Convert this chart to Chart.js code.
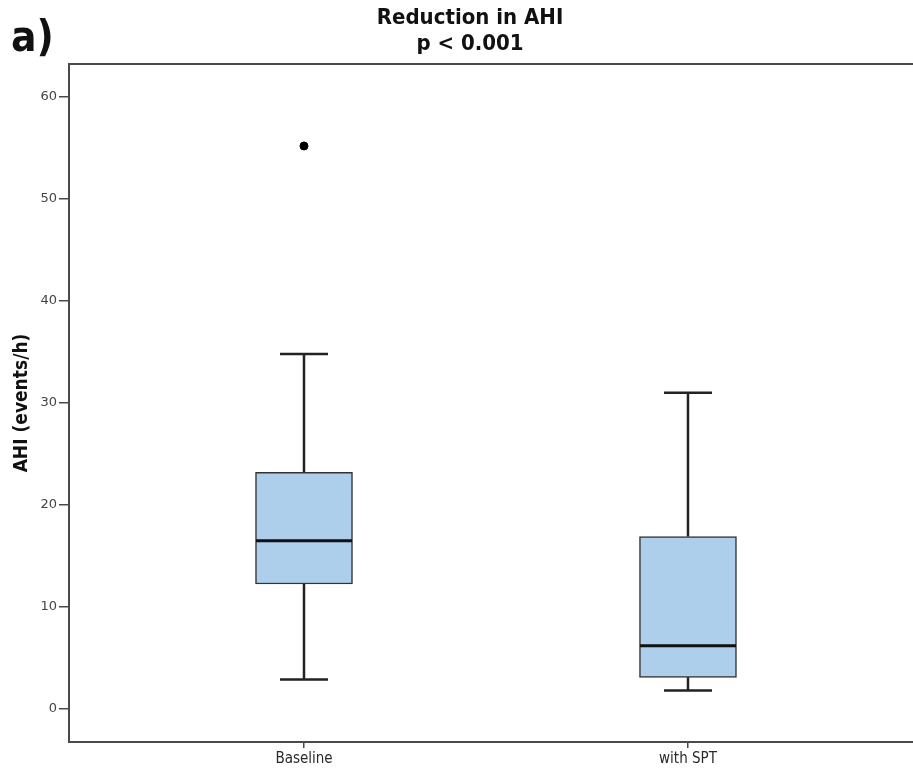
<!DOCTYPE html>
<html>
<head>
<meta charset="utf-8">
<title>Reduction in AHI</title>
<script src="https://cdn.jsdelivr.net/npm/chart.js@4.4.1/dist/chart.umd.min.js"></script>
<style>
    html, body { margin: 0; padding: 0; background: #ffffff; }
    #wrap { width: 913px; height: 774px; }
</style>
</head>
<body>
<div id="wrap"><canvas id="boxChart" width="913" height="774"></canvas></div>
<script>
// Box plot of AHI before and with SPT

const groups = ['Baseline', 'with SPT'];
const whiskerLow = [2.9, 1.8];
const q1 = [12.25, 3.1];
const median = [16.5, 6.2];
const q3 = [23.2, 16.9];
const whiskerHigh = [34.8, 31.0];
const outliers = [[55.2], []];
const yTicks = [0, 10, 20, 30, 40, 50, 60];

const titleLines = ['Reduction in AHI', 'p < 0.001'];
const panelLabel = 'a)';

const axisColor = '#4a4a4a';
const boxFill = '#aecfec';
const lineColor = '#222222';

// Build datasets from the arrays above
const boxData = groups.map((g, i) => ({ x: i + 1, y: [q1[i], q3[i]] }));
const outlierData = [];
outliers.forEach((vals, i) => {
    vals.forEach(v => outlierData.push({ x: i + 1, y: v }));
});

// Whiskers, caps and medians drawn through the chart scales
const boxExtras = {
    id: 'boxExtras',
    afterDatasetsDraw(chart) {
        const ctx = chart.ctx;
        const xs = chart.scales.x;
        const ys = chart.scales.y;
        const capHalf = 24;
        const boxHalf = 48;
        ctx.save();
        groups.forEach((g, i) => {
            const cx = xs.getPixelForValue(i + 1);
            ctx.strokeStyle = lineColor;
            ctx.lineWidth = 2.5;
            ctx.lineCap = 'butt';
            ctx.beginPath();
            ctx.moveTo(cx, ys.getPixelForValue(q3[i]));
            ctx.lineTo(cx, ys.getPixelForValue(whiskerHigh[i]));
            ctx.moveTo(cx, ys.getPixelForValue(q1[i]));
            ctx.lineTo(cx, ys.getPixelForValue(whiskerLow[i]));
            ctx.moveTo(cx - capHalf, ys.getPixelForValue(whiskerHigh[i]));
            ctx.lineTo(cx + capHalf, ys.getPixelForValue(whiskerHigh[i]));
            ctx.moveTo(cx - capHalf, ys.getPixelForValue(whiskerLow[i]));
            ctx.lineTo(cx + capHalf, ys.getPixelForValue(whiskerLow[i]));
            ctx.stroke();

            ctx.strokeStyle = '#111111';
            ctx.lineWidth = 3;
            ctx.beginPath();
            ctx.moveTo(cx - boxHalf, ys.getPixelForValue(median[i]));
            ctx.lineTo(cx + boxHalf, ys.getPixelForValue(median[i]));
            ctx.stroke();
        });

        // top frame line
        const area = chart.chartArea;
        ctx.strokeStyle = axisColor;
        ctx.lineWidth = 2;
        ctx.beginPath();
        ctx.moveTo(area.left - 1, area.top);
        ctx.lineTo(chart.width, area.top);
        ctx.stroke();
        ctx.restore();
    }
};

// Title lines and panel letter
const headerText = {
    id: 'headerText',
    afterDraw(chart) {
        const ctx = chart.ctx;
        ctx.save();
        ctx.fillStyle = '#111111';
        ctx.textBaseline = 'middle';
        ctx.textAlign = 'center';
        ctx.font = 'bold 22px "DejaVu Sans Condensed", "DejaVu Sans", sans-serif';
        ctx.fillText(titleLines[0], 470, 18);
        ctx.fillText(titleLines[1], 470, 44);

        ctx.textAlign = 'left';
        ctx.textBaseline = 'alphabetic';
        ctx.font = 'bold 42px "DejaVu Sans Condensed", "DejaVu Sans", sans-serif';
        ctx.fillText(panelLabel, 11, 51);
        ctx.restore();
    }
};

const chart = new Chart(document.getElementById('boxChart'), {
    type: 'bar',
    data: {
        datasets: [
            {
                label: 'IQR',
                data: boxData,
                backgroundColor: boxFill,
                borderColor: '#333333',
                borderWidth: 1.5,
                borderSkipped: false,
                barThickness: 97
            },
            {
                type: 'scatter',
                label: 'Outliers',
                data: outlierData,
                backgroundColor: '#000000',
                borderColor: '#000000',
                pointRadius: 4,
                pointHoverRadius: 4
            }
        ]
    },
    options: {
        responsive: false,
        animation: false,
        layout: {
            autoPadding: false,
            padding: { top: 64, right: 0, left: 0, bottom: 0 }
        },
        plugins: {
            legend: { display: false },
            tooltip: { enabled: false },
            title: { display: false }
        },
        scales: {
            x: {
                type: 'linear',
                offset: false,
                min: 0.388,
                max: 2.586,
                afterBuildTicks: scale => {
                    scale.ticks = groups.map((g, i) => ({ value: i + 1 }));
                },
                afterFit: scale => {
                    scale.height = 32;
                },
                ticks: {
                    callback: value => groups[value - 1],
                    color: '#2a2a2a',
                    padding: 2,
                    maxRotation: 0,
                    font: { family: '"DejaVu Sans Condensed", "DejaVu Sans", sans-serif', size: 15 }
                },
                grid: {
                    offset: false,
                    drawOnChartArea: false,
                    drawTicks: true,
                    tickLength: 6,
                    color: axisColor,
                    lineWidth: 1.5
                },
                border: { display: true, color: axisColor, width: 2 }
            },
            y: {
                type: 'linear',
                min: -3.24,
                max: 63.24,
                afterBuildTicks: scale => {
                    scale.ticks = yTicks.map(v => ({ value: v }));
                },
                afterFit: scale => {
                    scale.width = 69;
                },
                ticks: {
                    color: '#444444',
                    padding: 2,
                    font: { family: '"DejaVu Sans", sans-serif', size: 13 }
                },
                grid: {
                    drawOnChartArea: false,
                    drawTicks: true,
                    tickLength: 10,
                    color: axisColor,
                    lineWidth: 1.5
                },
                border: { display: true, color: axisColor, width: 2 },
                title: {
                    display: true,
                    text: 'AHI (events/h)',
                    color: '#111111',
                    padding: { top: 11, bottom: 0 },
                    font: { family: '"DejaVu Sans Condensed", "DejaVu Sans", sans-serif', size: 19, weight: 'bold' }
                }
            }
        }
    },
    plugins: [boxExtras, headerText]
});
</script>
</body>
</html>
